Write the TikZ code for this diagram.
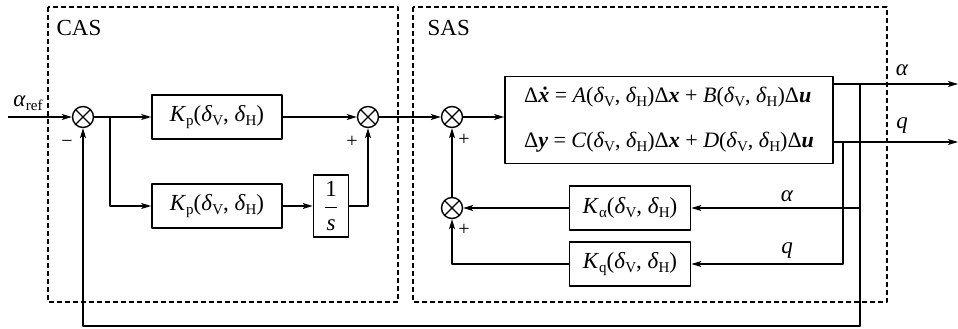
\documentclass[tikz,border=0pt]{standalone}
\usepackage{amsmath}
\usepackage{fontspec}
\setmainfont{Liberation Serif}
\usetikzlibrary{arrows.meta,calc}
\newcommand\sbs[1]{{\fontsize{15}{15}\selectfont\raisebox{-4pt}{#1}}}
\newcommand\dvh{(\textit{δ}\sbs{V}, \textit{δ}\sbs{H})}
\newcommand\bvec[1]{\textbf{\textit{#1}}}
\tikzset{
    blockbox/.style={draw, line width=1.7pt, inner sep=2pt, font=\fontsize{23}{27}\selectfont},
    sumnode/.style={circle, draw, line width=1.4pt, minimum size=21pt, inner sep=0pt,
        path picture={\draw[line width=1.4pt]
            ($(path picture bounding box.center)+(45:10.5pt)$) -- ($(path picture bounding box.center)+(225:10.5pt)$)
            ($(path picture bounding box.center)+(135:10.5pt)$) -- ($(path picture bounding box.center)+(-45:10.5pt)$);}},
    groupbox/.style={draw, dash pattern=on 5pt off 3pt, line width=1.1pt},
    lbl/.style={font=\fontsize{23}{27}\selectfont, inner sep=0pt},
    signlbl/.style={font=\fontsize{20}{22}\selectfont, inner sep=0pt}
}
\begin{document}
\begin{tikzpicture}[x=1pt, y=-1pt, line width=1.3pt, line join=round,
        >={Stealth[length=10pt,width=6pt,inset=2.5pt]}]
        \useasboundingbox (0,0) rectangle (958,329);
        \draw[groupbox] (48,7) rectangle (398,302);
        \draw[groupbox] (413,7) rectangle (887,302);
        \node[lbl, anchor=west] (cas) at (56,28) {CAS};
        \node[lbl, anchor=west] (sas) at (427,28) {SAS};
        % CAS
        \coordinate (ain) at (8,117);
        \node[lbl] (aref) at (28,103) {\textit{α}\sbs{ref}};
        \node[sumnode] (s1) at (83,117) {};
        \coordinate (br1) at (110,117);
        \node[blockbox, minimum width=130pt, minimum height=44pt] (kp1) at (217,117) {\textit{K}\sbs{p}\dvh};
        \node[blockbox, minimum width=130pt, minimum height=44pt] (kp2) at (217,206) {\textit{K}\sbs{p}\dvh};
        \node[blockbox, minimum width=35pt, minimum height=62pt, inner sep=1pt] (integ) at (331,206) {$\dfrac{\text{1}}{\textit{s}}$};
        \node[sumnode] (s2) at (368,117) {};
        \node[signlbl] (m1) at (67,144) {−};
        \node[signlbl] (p1) at (352,142) {+};
        \draw[->] (ain) -- (s1.west);
        \draw (s1.east) -- (br1);
        \draw[->] (br1) -- (kp1.west);
        \draw[->] (br1) |- (kp2.west);
        \draw[->] (kp2.east) -- (integ.west);
        \draw[->] (integ.east) -| (s2.south);
        \draw[->] (kp1.east) -- (s2.west);
        % SAS
        \node[sumnode] (s3) at (452,117) {};
        \node[sumnode] (s4) at (452,208) {};
        \node[blockbox, minimum width=328pt, minimum height=87pt, align=left, font=\fontsize{22}{26}\selectfont] (plant) at (669,120)
            {Δ\bvec{ẋ} = \textit{A}\dvh Δ\bvec{x} + \textit{B}\dvh Δ\bvec{u}\\[19pt]
             Δ\bvec{y} = \textit{C}\dvh Δ\bvec{x} + \textit{D}\dvh Δ\bvec{u}};
        \node[blockbox, minimum width=121pt, minimum height=44pt] (kalpha) at (630,208) {\textit{K}\sbs{α}\dvh};
        \node[blockbox, minimum width=121pt, minimum height=44pt] (kq) at (630,264) {\textit{K}\sbs{q}\dvh};
        \coordinate (aout) at (958,84);
        \coordinate (qout) at (958,142);
        \coordinate (abr) at (860,84);
        \coordinate (qbr) at (843,142);
        \node[lbl] (alab) at (902,70) {\textit{α}};
        \node[lbl] (qlab) at (902,126) {\textit{q}};
        \node[lbl] (alab2) at (787,196) {\textit{α}};
        \node[lbl] (qlab2) at (787,251) {\textit{q}};
        \node[signlbl] (p2) at (464,140) {+};
        \node[signlbl] (p3) at (464,230) {+};
        \draw[->] (s2.east) -- (s3.west);
        \draw[->] (s3.east) -- (s3 -| plant.west);
        \draw[->] (plant.east |- aout) -- (aout);
        \draw[->] (plant.east |- qout) -- (qout);
        \draw[->] (abr |- kalpha) -- (kalpha.east);
        \draw[->] (qbr) |- (kq.east);
        \draw[->] (kalpha.west) -- (s4.east);
        \draw[->] (kq.west) -| (s4.south);
        \draw[->] (s4.north) -- (s3.south);
        \draw[->] (abr) -- (abr |- 0,326) -| (s1.south);
    \end{tikzpicture}
\end{document}
